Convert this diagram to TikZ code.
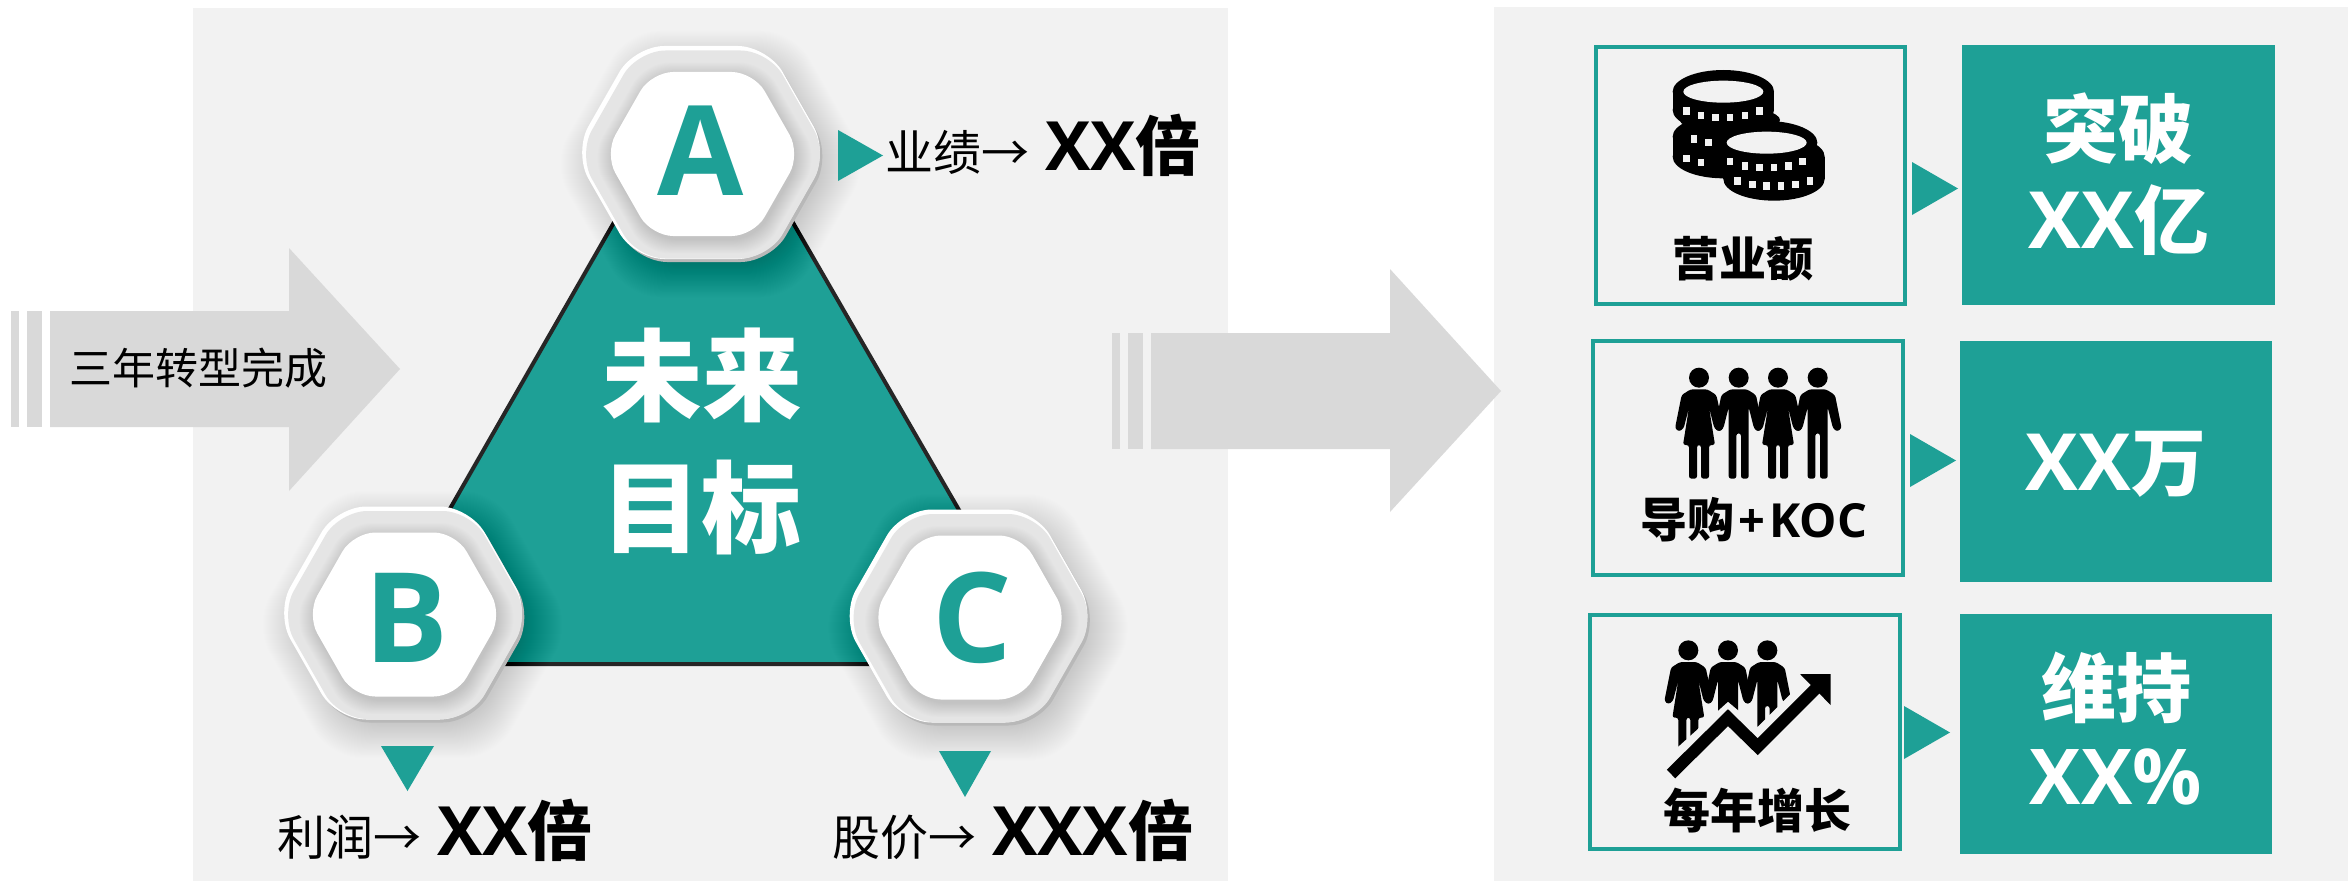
\documentclass[tikz,border=0pt]{standalone}
\usepackage{fontspec}
\setmainfont{Noto Sans CJK SC}
\newfontfamily\latinf{Open Sans}
\definecolor{teal1}{HTML}{1EA096}
\definecolor{panel}{HTML}{F2F2F2}
\definecolor{arrowgray}{HTML}{D9D9D9}
\newcommand\fz[1]{\fontsize{#1}{#1}\selectfont}
\newcommand\xx[1]{{\latinf\bfseries #1}}
\newcommand\hexpath[4]{({(#1)-(#3)},{#2}) -- ({(#1)-(#3)+.57*(#4)},{(#2)-(#4)}) -- ({(#1)+(#3)-.57*(#4)},{(#2)-(#4)}) -- ({(#1)+(#3)},{#2}) -- ({(#1)+(#3)-.57*(#4)},{(#2)+(#4)}) -- ({(#1)-(#3)+.57*(#4)},{(#2)+(#4)}) -- cycle}
\newcommand\hexagonbadge[2]{%
  \foreach \g in {30,29,...,-10}{\fill[black,opacity=.0055,rounded corners=32] \hexpath{#1+8}{#2+10}{129+\g}{108+.85*\g};}
  \fill[black!28,rounded corners=30] \hexpath{#1+1.5}{#2+2.5}{127}{105.5};
  \fill[white,rounded corners=30] \hexpath{#1-1.5}{#2-1.5}{127.5}{106.5};
  \fill[black!10,rounded corners=28] \hexpath{#1+.5}{#2+.5}{125}{104};
  \foreach \g in {16,15,...,0}{\fill[black,opacity=.006,rounded corners=24] \hexpath{#1+2}{#2+4}{98+\g}{82+.85*\g};}
  \fill[white,rounded corners=22] \hexpath{#1}{#2}{98}{82};
}
\newcommand\stripearrow[7]{%
  \fill[arrowgray] (#1,#3) rectangle ({#1+8},#4);
  \fill[arrowgray] ({#1+16},#3) rectangle ({#1+31},#4);
  \fill[arrowgray] ({#1+39},#3) -- (#2,#3) -- (#2,#5) -- (#7,{(#3+#4)/2}) -- (#2,#6) -- (#2,#4) -- ({#1+39},#4) -- cycle;
}
\newcommand\coin[3]{%
  \fill ({#1},{#2}) ellipse [x radius=152,y radius=65];
  \fill ({#1-152},{#2}) rectangle ({#1+152},{#2+#3});
  \fill ({#1},{#2+#3}) ellipse [x radius=152,y radius=65];
}
\newcommand\femalefig[1]{%
  \fill ({#1},143) circle [radius=30];
  \fill[rounded corners=2.5] ({#1-25},178) -- ({#1+25},178) -- ({#1+52},195) -- ({#1+74},295) -- ({#1+60},305) -- ({#1+46},295) -- ({#1+30},232) -- ({#1+48},345) -- ({#1+30},345) -- ({#1+30},446) -- ({#1+6},446) -- ({#1+6},345) -- ({#1-6},345) -- ({#1-6},446) -- ({#1-30},446) -- ({#1-30},345) -- ({#1-48},345) -- ({#1-30},232) -- ({#1-46},295) -- ({#1-60},305) -- ({#1-72},295) -- ({#1-52},195) -- cycle;
}
\newcommand\malefig[1]{%
  \fill ({#1},143) circle [radius=30];
  \fill[rounded corners=2.5] ({#1-25},178) -- ({#1+25},178) -- ({#1+52},195) -- ({#1+72},295) -- ({#1+58},305) -- ({#1+46},295) -- ({#1+30},232) -- ({#1+30},446) -- ({#1+7},446) -- ({#1+7},310) -- ({#1-7},310) -- ({#1-7},446) -- ({#1-30},446) -- ({#1-30},232) -- ({#1-46},295) -- ({#1-58},305) -- ({#1-72},295) -- ({#1-52},195) -- cycle;
}
\tikzset{
  lbl/.style={anchor=base west,inner sep=0,text=black},
  wtxt/.style={inner sep=0,text=white,font=\bfseries},
  iconlbl/.style={inner sep=0,text=black,font=\bfseries\fz{47}},
  hexltr/.style={inner sep=0,text=teal1,font=\latinf\bfseries\fz{125}},
  outlinebox/.style={draw=teal1,line width=3.5pt,fill=panel},
  solidbox/.style={fill=teal1},
  marker/.style={fill=teal1},
}
\begin{document}
\begin{tikzpicture}[x=1pt,y=-1pt]
\useasboundingbox (0,0) rectangle (2348,883);
% panels
\fill[panel] (193,8) rectangle (1228,881);
\fill[panel] (1494,7) rectangle (2348,881);
% arrows
\stripearrow{11}{289}{311}{427}{248}{491}{400}
\stripearrow{1112}{1390}{333}{449}{269}{512}{1501}
\node[inner sep=0,text=black,font=\fz{43}] (tlabel) at (198.5,368) {三年转型完成};
% triangle
\fill[teal1,draw=black!85,line width=4pt,line join=round] (703,67) -- (361,664) -- (1048,664) -- cycle;
\node[wtxt,font=\bfseries\fz{100}] (g1) at (702,375) {未来};
\node[wtxt,font=\bfseries\fz{100}] (g2) at (701,507) {目标};
% hexagons
\hexagonbadge{702.5}{154}
\hexagonbadge{404.5}{614.5}
\hexagonbadge{970}{617.5}
\node[hexltr] (A) at (701,151) {A};
\node[hexltr] (B) at (406,618) {B};
\node[hexltr] (C) at (972,618) {C};
% markers
\fill[marker] (838,130) -- (883,155.5) -- (838,181) -- cycle;
\fill[marker] (381,746) -- (434,746) -- (407.5,791) -- cycle;
\fill[marker] (939,751) -- (991,751) -- (965,797) -- cycle;
% labels
\node[lbl] (la) at (885,170) {\fz{48}业绩→\hspace{16pt}\fz{65}\xx{\fz{68}XX}\bfseries 倍};
\node[lbl] (lb) at (277,855) {\fz{48}利润→\hspace{16pt}\fz{65}\xx{\fz{68}XX}\bfseries 倍};
\node[lbl] (lc) at (832,855) {\fz{48}股价→\hspace{16pt}\fz{65}\xx{\fz{68}XXX}\bfseries 倍};
% right boxes
\draw[outlinebox] (1596,47) rectangle (1905,304);
\draw[outlinebox] (1593,341) rectangle (1903,575);
\draw[outlinebox] (1590,615) rectangle (1900,849);
\fill[solidbox] (1962,45) rectangle (2275,305);
\fill[solidbox] (1960,341) rectangle (2272,582);
\fill[solidbox] (1960,614) rectangle (2272,854);
\fill[marker] (1912,162) -- (1958,188.5) -- (1912,215) -- cycle;
\fill[marker] (1910,434) -- (1956,460.5) -- (1910,487) -- cycle;
\fill[marker] (1904,706) -- (1950,732.5) -- (1904,759) -- cycle;
% white texts
\node[wtxt,font=\bfseries\fz{75}] (t1) at (2118,129) {突破};
\node[wtxt,font=\fz{75}] (t2) at (2119,220) {\xx{\fz{79}XX}\bfseries 亿};
\node[wtxt,font=\fz{75}] (t3) at (2116,464) {\xx{\fz{79}XX}\bfseries 万};
\node[wtxt,font=\bfseries\fz{75}] (t4) at (2116,688) {维持};
\node[wtxt,font=\fz{77}] (t5) at (2116,777) {\xx{XX\%}};
% icon labels
\node[iconlbl] (i1) at (1743,258.5) {营业额};
\node[iconlbl] (i2) at (1754,520) {导购\hspace{4pt}\xx{+}\hspace{4pt}\xx{KOC}};
\node[iconlbl] (i3) at (1757.5,811) {每年增长};
% coins
\begin{scope}[shift={(1580,40)},scale=1/3]
  \coin{430}{290}{60}
  \fill (450,240) ellipse [x radius=150,y radius=40];
  \coin{430}{155}{55}
  \fill[panel] (430,155) ellipse [x radius=120,y radius=33];
  \foreach \x/\y in {320/213,363/227,407/232,450/232,495/227,538/213,342/297,385/308,320/355,363/368}
    \fill[panel] ({\x-10},{\y-11}) rectangle ({\x+10},{\y+11});
  \coin{582}{350}{67}
  \coin{560}{308}{50}
  \fill[panel] (560,308) ellipse [x radius=120,y radius=33];
  \foreach \x/\y in {450/365,495/378,538/383,582/383,625/378,668/365,472/423,517/433,560/438,603/438,647/433,690/423}
    \fill[panel] ({\x-10},{\y-11}) rectangle ({\x+10},{\y+11});
\end{scope}
% people
\begin{scope}[shift={(1580,330)},scale=1/3]
  \femalefig{357}\malefig{476}\femalefig{594}\malefig{713}
\end{scope}
% growth
\begin{scope}[shift={(1580,610)},scale=1/3]
  \begin{scope}
    \clip (200,60) -- (700,60) -- (700,183) -- (533,350) -- (444,275) -- (250,450) -- (200,450) -- cycle;
    \begin{scope}[shift={(-32,-22)}]
      \femalefig{357}\malefig{476}\malefig{594}
    \end{scope}
  \end{scope}
  \draw[black,line width=12pt,line join=miter] (273,492) -- (444,323) -- (533,410) -- (712,231);
  \fill (752,192) -- (660,192) -- (752,285) -- cycle;
\end{scope}
\end{tikzpicture}
\end{document}
